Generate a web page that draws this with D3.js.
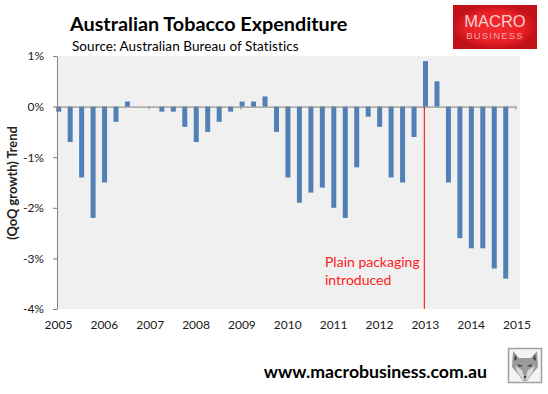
<!DOCTYPE html>
<html>
<head>
<meta charset="utf-8">
<script src="https://cdn.jsdelivr.net/npm/d3@7"></script>
<style>
  html, body { margin: 0; padding: 0; background: #fff; }
  svg { display: block; }
  text { font-family: Lato, "Open Sans", sans-serif; }
</style>
</head>
<body>
<div id="chart"></div>
<script>
const years = [2005, 2006, 2007, 2008, 2009, 2010, 2011, 2012, 2013, 2014, 2015];
const yTicks = [1, 0, -1, -2, -3, -4];
// quarterly trend growth, 2005 Q1 -> 2014 Q4
const growth = [
  -0.1, -0.7, -1.4, -2.2,
  -1.5, -0.3, 0.1, 0,
  0, -0.1, -0.1, -0.4,
  -0.7, -0.5, -0.3, -0.1,
  0.1, 0.1, 0.2, -0.5,
  -1.4, -1.9, -1.7, -1.6,
  -2.0, -2.2, -1.2, -0.2,
  -0.4, -1.4, -1.5, -0.6,
  0.9, 0.5, -1.5, -2.6,
  -2.8, -2.8, -3.2, -3.4
];
const packagingYear = 2013;
const packagingLabel = ['Plain packaging', 'introduced'];

const width = 548;
const height = 394;
const plot = { left: 57, right: 520, top: 56, bottom: 309 };

const svg = d3.select('#chart').append('svg')
  .attr('width', width)
  .attr('height', height);

const xScale = d3.scaleLinear().domain([2005, 2015]).range([57, 515.5]);
const yScale = d3.scaleLinear().domain([-4, 1]).range([309, 56]);

svg.append('rect')
  .attr('x', plot.left)
  .attr('y', plot.top)
  .attr('width', plot.right - plot.left)
  .attr('height', plot.bottom - plot.top)
  .attr('fill', '#f0f0f0');

// bars sit a touch right of the quarter position, like the excel original
const barWidth = 5;
svg.append('g')
  .selectAll('rect')
  .data(growth)
  .join('rect')
  .attr('x', (d, i) => xScale(2005 + i / 4) + 1.7 - barWidth / 2)
  .attr('y', d => yScale(Math.max(d, 0)))
  .attr('width', barWidth)
  .attr('height', d => Math.abs(yScale(d) - yScale(0)))
  .attr('fill', '#5080b5');

// x axis runs along zero, labels go to the bottom of the plot
const xAxis = d3.axisBottom(xScale)
  .tickValues(years)
  .tickFormat('')
  .tickSize(3)
  .tickSizeOuter(0);

svg.append('g')
  .attr('transform', `translate(0, ${yScale(0)})`)
  .call(xAxis)
  .call(g => g.selectAll('path, line').attr('stroke', '#808080'));

svg.append('g')
  .selectAll('text')
  .data(years)
  .join('text')
  .attr('x', d => xScale(d) + 1.5)
  .attr('y', 328.5)
  .attr('text-anchor', 'middle')
  .attr('font-size', 12)
  .attr('fill', '#1a1a1a')
  .text(d => d);

const yAxis = d3.axisLeft(yScale)
  .tickValues(yTicks)
  .tickFormat(d => d + '%')
  .tickSize(4)
  .tickSizeOuter(0);

svg.append('g')
  .attr('transform', `translate(${plot.left}, 0)`)
  .call(yAxis)
  .call(g => g.selectAll('path, line').attr('stroke', '#808080'))
  .call(g => g.selectAll('text')
    .attr('x', -13)
    .attr('font-size', 12)
    .attr('font-family', 'Lato, "Open Sans", sans-serif')
    .attr('fill', '#1a1a1a'));

// plain packaging marker
svg.append('line')
  .attr('x1', xScale(packagingYear) + 0.5)
  .attr('x2', xScale(packagingYear) + 0.5)
  .attr('y1', yScale(0))
  .attr('y2', plot.bottom)
  .attr('stroke', '#ff0000')
  .attr('stroke-width', 1);

svg.append('g')
  .selectAll('text')
  .data(packagingLabel)
  .join('text')
  .attr('x', 325)
  .attr('y', (d, i) => 266.5 + i * 18)
  .attr('font-size', 14)
  .attr('fill', '#ff2020')
  .text(d => d);

svg.append('text')
  .attr('transform', 'translate(17, 183) rotate(-90)')
  .attr('text-anchor', 'middle')
  .attr('font-size', 12.8)
  .attr('font-weight', 'bold')
  .attr('fill', '#222')
  .text('(QoQ growth) Trend');

svg.append('text')
  .attr('x', 70)
  .attr('y', 31)
  .attr('font-size', 19.8)
  .attr('font-weight', 'bold')
  .attr('fill', '#000')
  .text('Australian Tobacco Expenditure');

svg.append('text')
  .attr('x', 72)
  .attr('y', 51)
  .attr('font-size', 13.5)
  .attr('letter-spacing', 0.08)
  .attr('fill', '#000')
  .text('Source: Australian Bureau of Statistics');

svg.append('text')
  .attr('x', 487)
  .attr('y', 378)
  .attr('text-anchor', 'end')
  .attr('font-size', 17.7)
  .attr('font-weight', 'bold')
  .attr('fill', '#000')
  .text('www.macrobusiness.com.au');

// logo
const logoGrad = svg.append('defs').append('radialGradient').attr('id', 'logoGrad');
logoGrad.append('stop').attr('offset', '0%').attr('stop-color', '#f42a2e');
logoGrad.append('stop').attr('offset', '70%').attr('stop-color', '#ea2026');
logoGrad.append('stop').attr('offset', '100%').attr('stop-color', '#c01218');

svg.append('rect')
  .attr('x', 453)
  .attr('y', 5)
  .attr('width', 84)
  .attr('height', 44)
  .attr('fill', 'url(#logoGrad)');

svg.append('text')
  .attr('x', 495)
  .attr('y', 27)
  .attr('text-anchor', 'middle')
  .attr('font-size', 16.5)
  .attr('fill', '#f8d0d0')
  .style('font-family', '"Liberation Sans", sans-serif')
  .text('MACRO');

svg.append('text')
  .attr('x', 495)
  .attr('y', 39)
  .attr('text-anchor', 'middle')
  .attr('font-size', 9.5)
  .attr('letter-spacing', 1.2)
  .attr('fill', '#f4a8a8')
  .style('font-family', '"Liberation Sans", sans-serif')
  .text('BUSINESS');

// fox badge
svg.append('rect')
  .attr('x', 508.5)
  .attr('y', 348.5)
  .attr('width', 33)
  .attr('height', 34)
  .attr('fill', '#f4f4f4')
  .attr('stroke', '#a0a0a0')
  .attr('stroke-width', 1.5);

// head
svg.append('path')
  .attr('d', 'M513 351 L519 358 L531 358 L537 351 L538 367 L532 374 L527 381 L523 381 L518 374 L512 367 Z')
  .attr('fill', '#9a9a9a');
// cheeks and muzzle
svg.append('path')
  .attr('d', 'M515 366 L522 370 L525 379 L528 370 L535 366 L532 373 L527 380 L523 380 L518 373 Z')
  .attr('fill', '#d8d8d8');
// eyes, nose, ear shadows
svg.append('path')
  .attr('d', 'M518 364 L523 366 L519 367 Z M532 364 L527 366 L531 367 Z M523.5 376 L526.5 376 L525 380 Z M515 354 L517 359 L514 361 Z M535 354 L533 359 L536 361 Z')
  .attr('fill', '#404040');
</script>
</body>
</html>
